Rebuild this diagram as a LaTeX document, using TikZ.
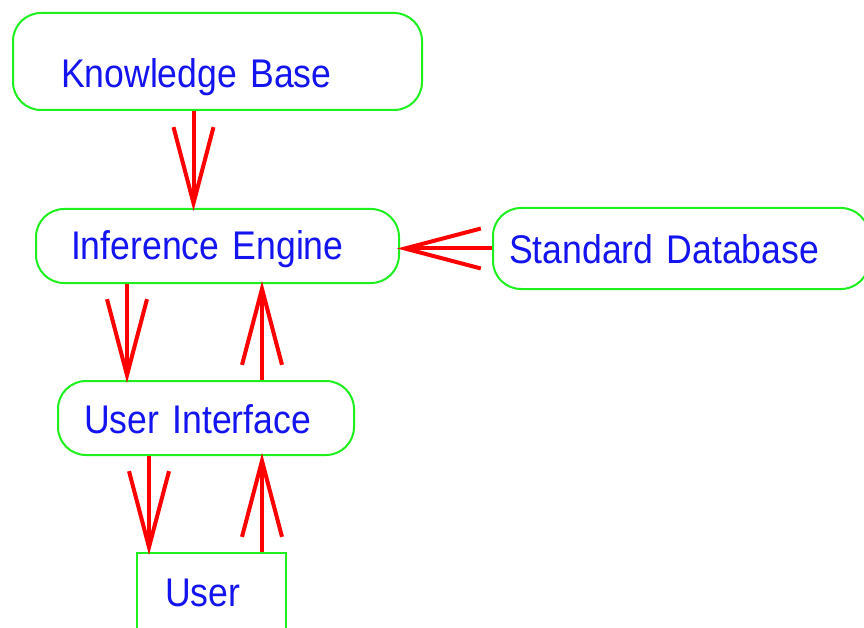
\documentclass[tikz,border=0pt]{standalone}
\usepackage{fontspec}
\setmainfont[FakeStretch=0.89]{Liberation Sans}
\usepackage{tikz}
\usetikzlibrary{arrows.meta}

\definecolor{boxgreen}{RGB}{30,240,30}
\definecolor{textblue}{RGB}{20,20,240}
\definecolor{flowred}{RGB}{255,0,0}

\tikzset{
    block/.style={draw=boxgreen,line width=2pt,text=textblue,anchor=north west,
                  align=left,inner ysep=0pt,font=\fontsize{40pt}{48pt}\selectfont},
    roundblock/.style={block,rounded corners=28pt},
    flow/.style={draw=flowred,line width=4pt,shorten >=-3pt,
                 -{Straight Barb[length=76pt,width=40pt]}}
}

\begin{document}
\begin{tikzpicture}[x=1pt,y=-1pt]
        % fix the size of the picture
        \useasboundingbox (0,0) rectangle (864,628);
        \clip (0,0) rectangle (864,628);

        % draw the boxes
        \node[roundblock,inner xsep=48pt,text width=313pt,text height=75pt,text depth=22pt]
            (kb) at (12,12) {Knowledge Base};
        \node[roundblock,inner xsep=35pt,text width=293pt,text height=50pt,text depth=24pt]
            (ie) at (35,208) {Inference Engine};
        \node[roundblock,inner xsep=16pt,text width=344pt,text height=56pt,text depth=25pt]
            (sd) at (492,207) {Standard Database};
        \node[roundblock,inner xsep=26pt,text width=244pt,text height=52pt,text depth=22pt]
            (ui) at (57,380) {User Interface};
        \node[block,inner xsep=28pt,text width=93pt,text height=53pt,text depth=55pt]
            (user) at (136,552) {User};

        % draw the arrows
        \draw[flow] ([xshift=-24pt]kb.south) -- ([xshift=-24pt]ie.north);
        \draw[flow] (sd.west) -- (sd.west -| ie.east);
        \draw[flow] ([xshift=-90.5pt]ie.south) -- ([xshift=-90.5pt]ie.south |- ui.north);
        \draw[flow] ([xshift=56pt]ui.north) -- ([xshift=56pt]ui.north |- ie.south);
        \draw[flow] ([xshift=-57pt]ui.south) -- ([xshift=-57pt]ui.south |- user.north);
        \draw[flow] ([xshift=50.5pt]user.north) -- ([xshift=50.5pt]user.north |- ui.south);
\end{tikzpicture}
\end{document}
